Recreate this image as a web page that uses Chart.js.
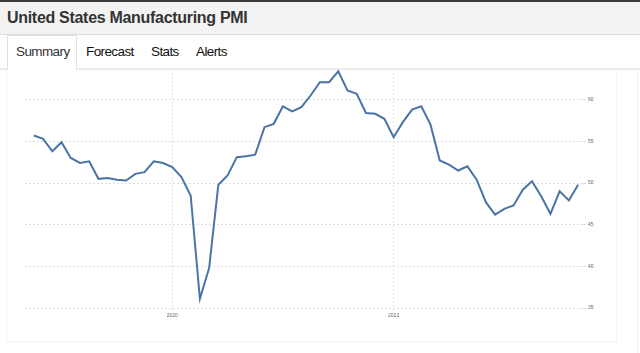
<!DOCTYPE html>
<html>
<head>
<meta charset="utf-8">
<script src="https://cdn.jsdelivr.net/npm/chart.js@4"></script>
<style>
  body { margin: 0; width: 640px; height: 353px; overflow: hidden; background: #fff; font-family: "Liberation Sans", Arial, sans-serif; position: relative; }
  .topbar { position: absolute; left: 0; top: 0; width: 640px; height: 2px; background: #3a3a3a; }
  .header { position: absolute; left: 0; top: 2px; width: 640px; height: 32px; background: #f3f3f3; border-bottom: 1px solid #dcdcdc; }
  .header h1 { margin: 0; position: absolute; left: 7px; top: 7px; font-size: 16px; font-weight: bold; color: #333; letter-spacing: -0.3px; }
  .tabline { position: absolute; left: 0; top: 68px; width: 640px; height: 2px; background: #ebebeb; }
  .tab-active { position: absolute; left: 7px; top: 35px; width: 70px; height: 35px; background: #fff; border: 1px solid #e0e0e0; border-bottom: none; box-sizing: border-box; }
  .tab { position: absolute; top: 44px; font-size: 13.5px; color: #111; letter-spacing: -0.6px; }
  .panel { position: absolute; left: 6px; top: 70px; width: 611px; height: 272px; border: 1px solid #f4f4f4; border-top: none; box-sizing: border-box; }
  .edge { position: absolute; left: 637px; top: 70px; width: 1px; height: 283px; background: #f0f0f0; }
  .chart-box { position: absolute; left: 6px; top: 68px; width: 611px; height: 274px; }
</style>
</head>
<body>
<div class="topbar"></div>
<div class="header"><h1>United States Manufacturing PMI</h1></div>
<div class="tabline"></div>
<div class="tab-active"></div>
<div class="tab" style="left:16px;color:#333">Summary</div>
<div class="tab" style="left:86px">Forecast</div>
<div class="tab" style="left:151px">Stats</div>
<div class="tab" style="left:196px">Alerts</div>
<div class="panel"></div>
<div class="edge"></div>
<div class="chart-box"><canvas id="pmi"></canvas></div>
<script>
// monthly readings, Oct 2018 .. Sep 2023
const months = [
  '2018-10','2018-11','2018-12',
  '2019-01','2019-02','2019-03','2019-04','2019-05','2019-06','2019-07','2019-08','2019-09','2019-10','2019-11','2019-12',
  '2020-01','2020-02','2020-03','2020-04','2020-05','2020-06','2020-07','2020-08','2020-09','2020-10','2020-11','2020-12',
  '2021-01','2021-02','2021-03','2021-04','2021-05','2021-06','2021-07','2021-08','2021-09','2021-10','2021-11','2021-12',
  '2022-01','2022-02','2022-03','2022-04','2022-05','2022-06','2022-07','2022-08','2022-09','2022-10','2022-11','2022-12',
  '2023-01','2023-02','2023-03','2023-04','2023-05','2023-06','2023-07','2023-08','2023-09'
];
const pmi = [
  55.7, 55.3, 53.8,
  54.9, 53.0, 52.4, 52.6, 50.5, 50.6, 50.4, 50.3, 51.1, 51.3, 52.6, 52.4,
  51.9, 50.7, 48.5, 36.1, 39.8, 49.8, 50.9, 53.1, 53.2, 53.4, 56.7, 57.1,
  59.2, 58.6, 59.1, 60.5, 62.1, 62.1, 63.4, 61.1, 60.7, 58.4, 58.3, 57.7,
  55.5, 57.3, 58.8, 59.2, 57.0, 52.7, 52.2, 51.5, 52.0, 50.4, 47.7, 46.2,
  46.9, 47.3, 49.2, 50.2, 48.4, 46.3, 49.0, 47.9, 49.8
];
const yearTicks = ['2020-01', '2022-01'];
const yTicks = [35, 40, 45, 50, 55, 60];

const points = pmi.map((v, i) => ({ x: i, y: v }));
const yearIdx = yearTicks.map(m => months.indexOf(m));

new Chart(document.getElementById('pmi'), {
  type: 'line',
  data: {
    datasets: [{
      data: points,
      borderColor: '#4b74a6',
      borderWidth: 2,
      pointRadius: 0,
      tension: 0,
      clip: false
    }]
  },
  options: {
    responsive: true,
    maintainAspectRatio: false,
    animation: false,
    layout: { padding: { left: 19, top: 2, right: 0, bottom: 0 } },
    plugins: { legend: { display: false }, tooltip: { enabled: false } },
    scales: {
      x: {
        type: 'linear',
        min: -0.96,
        max: 59.53,
        afterBuildTicks: scale => { scale.ticks = yearIdx.map(v => ({ value: v })); },
        afterFit: scale => { scale.height = 34; },
        ticks: {
          autoSkip: false,
          maxRotation: 0,
          padding: 2,
          color: '#666',
          font: { size: 5 },
          callback: v => months[v] ? months[v].slice(0, 4) : ''
        },
        border: { display: false, dash: [2, 2] },
        grid: { color: '#e2e2e2', lineWidth: 1, tickLength: 3 }
      },
      y: {
        position: 'right',
        min: 35,
        max: 63.2,
        afterBuildTicks: scale => { scale.ticks = yTicks.map(v => ({ value: v })); },
        afterFit: scale => { scale.width = 34; },
        ticks: {
          padding: 2,
          color: '#666',
          font: { size: 5 }
        },
        border: { display: false, dash: [2, 2] },
        grid: { color: '#dedede', lineWidth: 1, tickLength: 3 }
      }
    }
  }
});
</script>
</body>
</html>
